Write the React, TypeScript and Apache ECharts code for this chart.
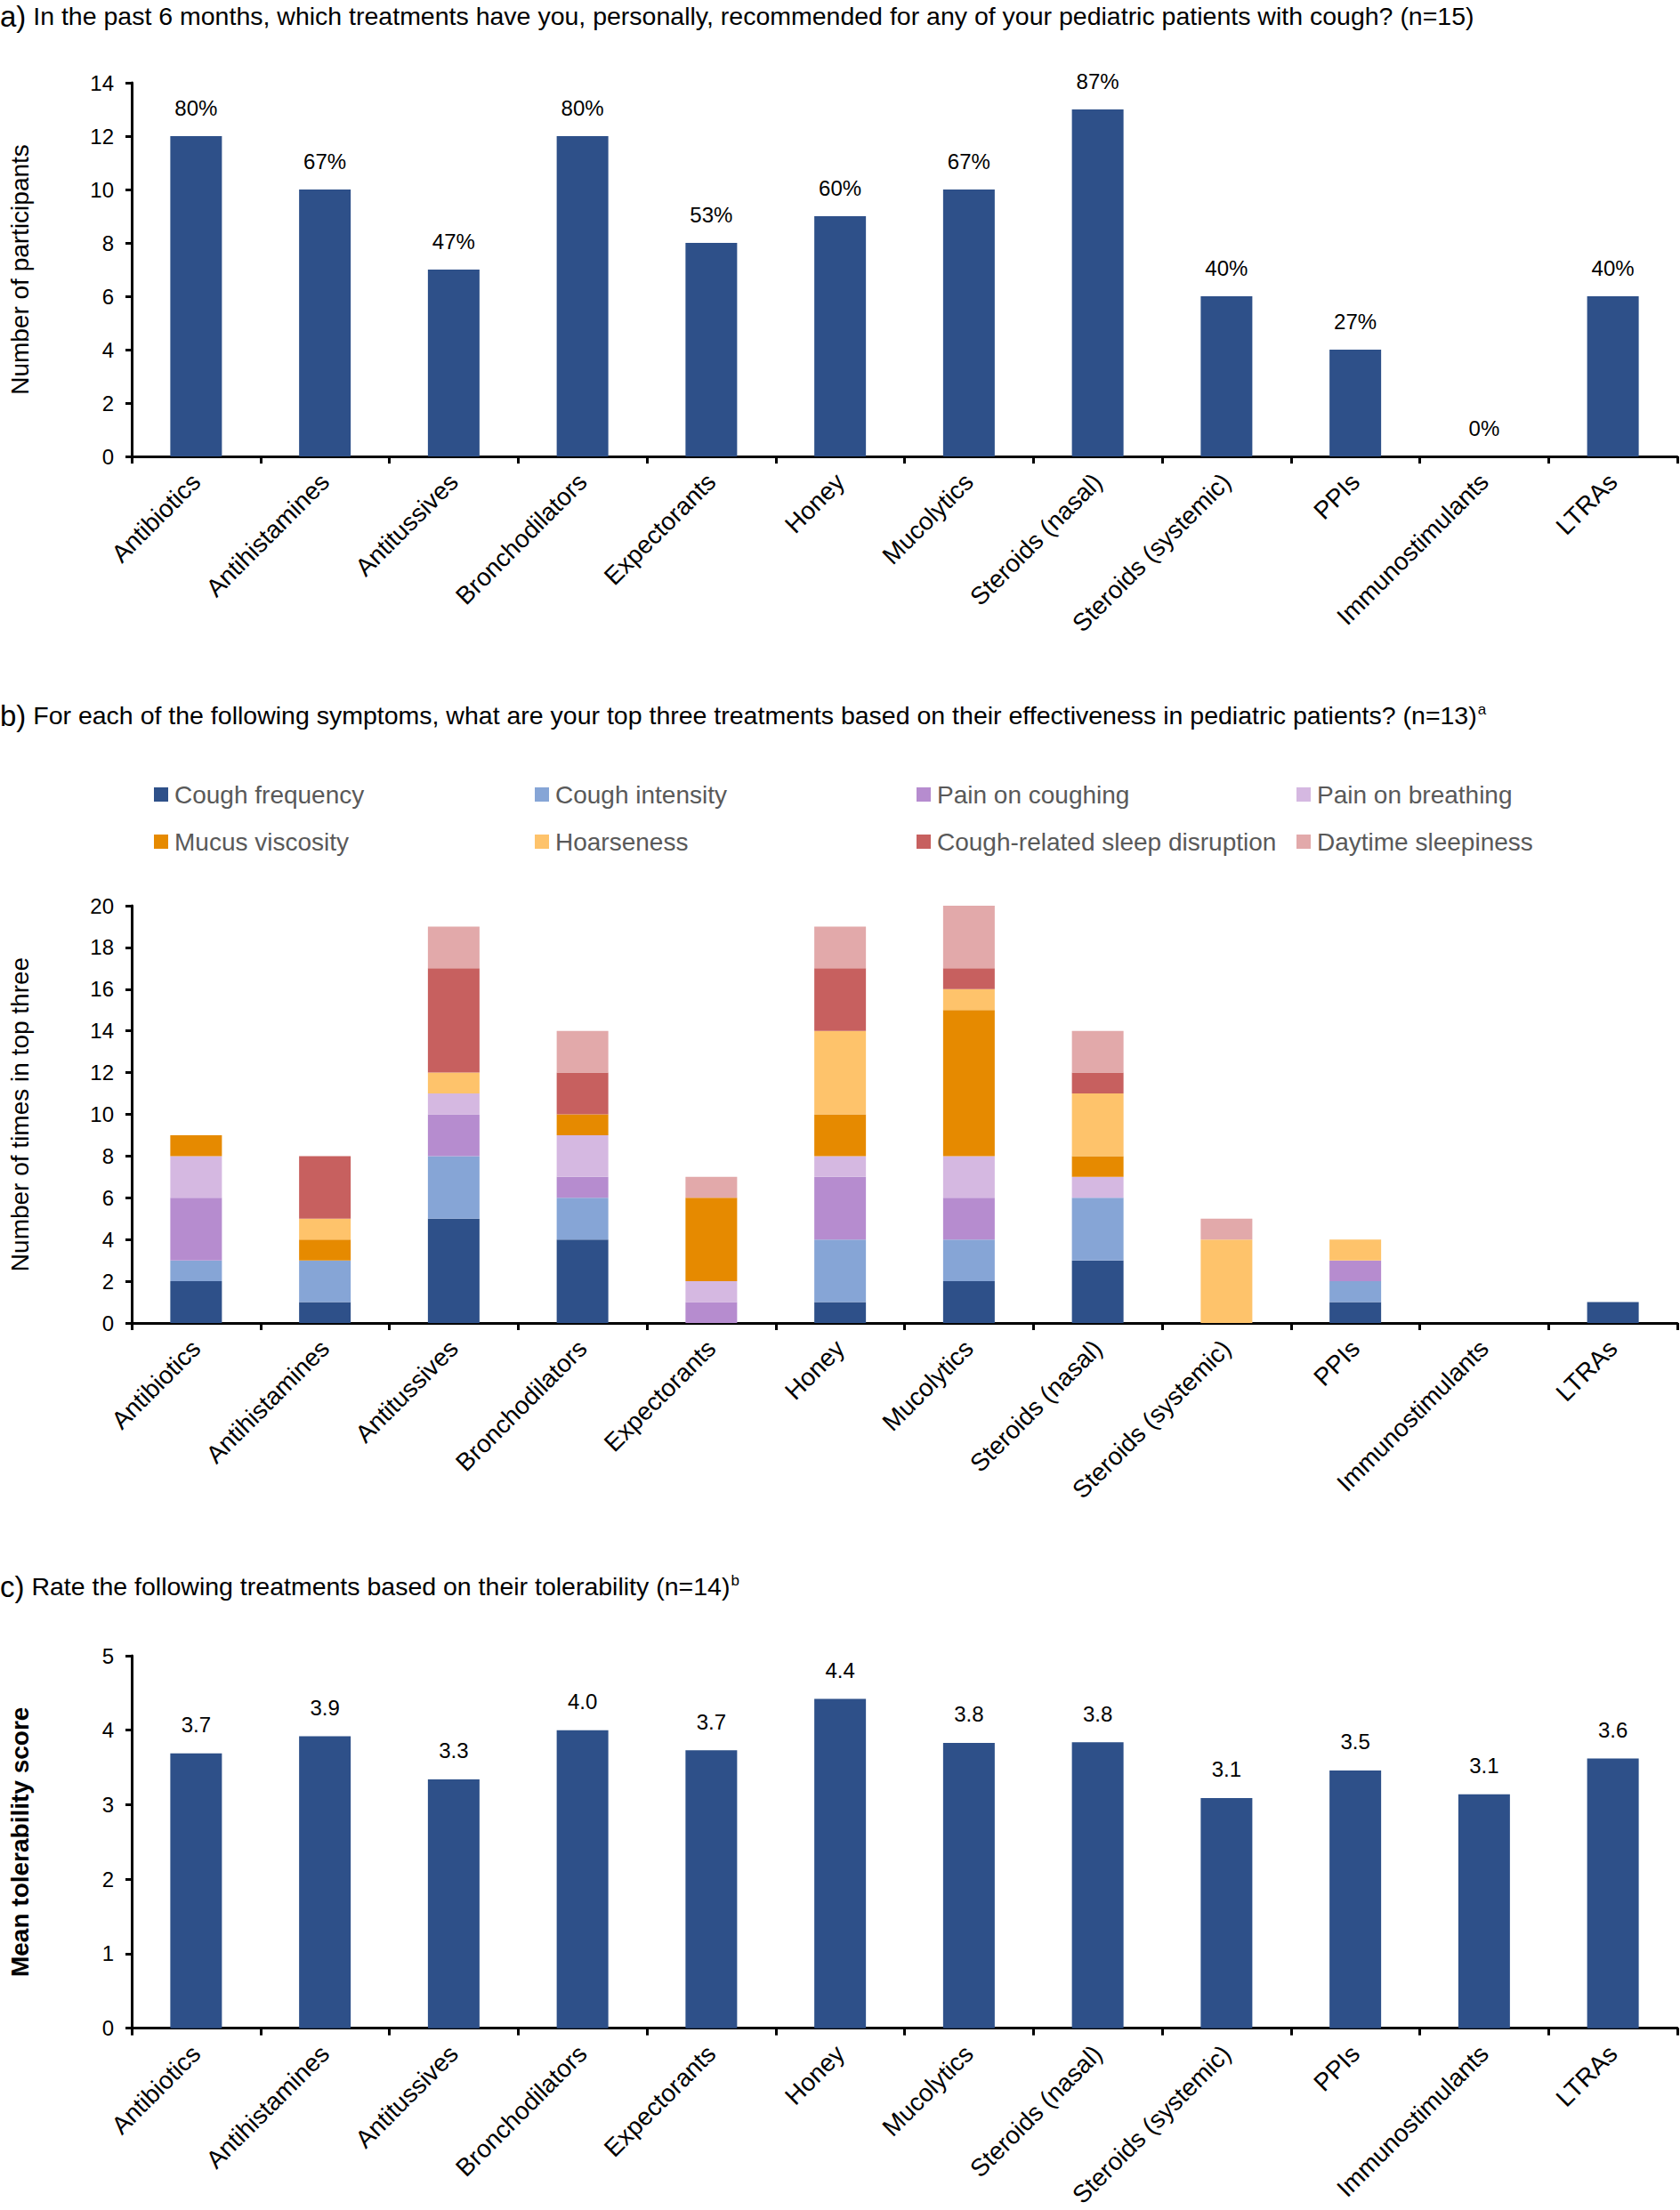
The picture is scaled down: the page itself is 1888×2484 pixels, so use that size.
import React, { useEffect, useRef } from "react";
import * as echarts from "echarts";

const FONT = "'Liberation Sans', Arial, Helvetica, sans-serif";

const categories = [
  "Antibiotics",
  "Antihistamines",
  "Antitussives",
  "Bronchodilators",
  "Expectorants",
  "Honey",
  "Mucolytics",
  "Steroids (nasal)",
  "Steroids (systemic)",
  "PPIs",
  "Immunostimulants",
  "LTRAs",
];

// Panel a
const recommendedCounts = [12, 10, 7, 12, 8, 9, 10, 13, 6, 4, 0, 6];
const recommendedPct = ["80%", "67%", "47%", "80%", "53%", "60%", "67%", "87%", "40%", "27%", "0%", "40%"];

// Panel b (stack order bottom -> top)
const symptomNames = [
  "Cough frequency",
  "Cough intensity",
  "Pain on coughing",
  "Pain on breathing",
  "Mucus viscosity",
  "Hoarseness",
  "Cough-related sleep disruption",
  "Daytime sleepiness",
];
const symptomColors = ["#2E5089", "#86A5D6", "#B68CCF", "#D5B8E1", "#E68A00", "#FEC36B", "#C7605F", "#E2A9AA"];
const coughFrequency = [2, 1, 5, 4, 0, 1, 2, 3, 0, 1, 0, 1];
const coughIntensity = [1, 2, 3, 2, 0, 3, 2, 3, 0, 1, 0, 0];
const painOnCoughing = [3, 0, 2, 1, 1, 3, 2, 0, 0, 1, 0, 0];
const painOnBreathing = [2, 0, 1, 2, 1, 1, 2, 1, 0, 0, 0, 0];
const mucusViscosity = [1, 1, 0, 1, 4, 2, 7, 1, 0, 0, 0, 0];
const hoarseness = [0, 1, 1, 0, 0, 4, 1, 3, 4, 1, 0, 0];
const sleepDisruption = [0, 3, 5, 2, 0, 3, 1, 1, 0, 0, 0, 0];
const daytimeSleepiness = [0, 0, 2, 2, 1, 2, 3, 2, 1, 0, 0, 0];
const symptomData = [
  coughFrequency,
  coughIntensity,
  painOnCoughing,
  painOnBreathing,
  mucusViscosity,
  hoarseness,
  sleepDisruption,
  daytimeSleepiness,
];

// Panel c
const tolerability = [3.69, 3.92, 3.34, 4.0, 3.73, 4.42, 3.83, 3.84, 3.09, 3.46, 3.14, 3.62];

const titleA = "In the past 6 months, which treatments have you, personally, recommended for any of your pediatric patients with cough? (n=15)";
const titleB = "For each of the following symptoms, what are your top three treatments based on their effectiveness in pediatric patients? (n=13)";
const titleC = "Rate the following treatments based on their tolerability (n=14)";

const BAR = "#2E5089";

export default function App() {
  const ref = useRef<HTMLDivElement>(null);

  useEffect(() => {
    document.body.style.margin = "0";
    if (!ref.current) return;
    const chart = echarts.init(ref.current, undefined, { renderer: "svg" });

    const gridLeft = 148;
    const gridWidth = 1737;
    const grids = [
      { left: gridLeft, top: 93, width: gridWidth, height: 420 },
      { left: gridLeft, top: 1018, width: gridWidth, height: 469 },
      { left: gridLeft, top: 1861, width: gridWidth, height: 420 },
    ];

    const axisLineStyle = { color: "#000", width: 3 };
    const xAxes = [0, 1, 2].map((g) => ({
      type: "category",
      gridIndex: g,
      data: categories,
      axisLine: { show: true, lineStyle: axisLineStyle },
      axisTick: { show: true, length: 8, lineStyle: { color: "#000", width: 3 } },
      axisLabel: { interval: 0, rotate: 45, fontSize: 28, color: "#000", fontFamily: FONT, margin: 24 },
    }));

    const yDefs = [
      { max: 14, interval: 2, name: "Number of participants", bold: false },
      { max: 20, interval: 2, name: "Number of times in top three", bold: false },
      { max: 5, interval: 1, name: "Mean tolerability score", bold: true },
    ];
    const yAxes = yDefs.map((d, g) => ({
      type: "value",
      gridIndex: g,
      min: 0,
      max: d.max,
      interval: d.interval,
      name: d.name,
      nameLocation: "middle",
      nameGap: 112,
      nameTextStyle: { fontSize: 28, color: "#000", fontFamily: FONT, fontWeight: d.bold ? "bold" : "normal" },
      axisLine: { show: true, lineStyle: axisLineStyle },
      axisTick: { show: true, length: 7, lineStyle: { color: "#000", width: 3 } },
      splitLine: { show: false },
      axisLabel: { fontSize: 24, color: "#000", fontFamily: FONT, margin: 20 },
    }));

    const rich = {
      p: { fontSize: 33, fontFamily: FONT, fontWeight: "normal", color: "#000", lineHeight: 32 },
      t: { fontSize: 28.5, fontFamily: FONT, fontWeight: "normal", color: "#000", lineHeight: 32 },
      s: { fontSize: 17, fontFamily: FONT, fontWeight: "normal", color: "#000", lineHeight: 32, verticalAlign: "top", padding: [1, 0, 0, 1] },
    };

    const legendCols = [173, 601, 1030, 1457];
    const legendRows = [879, 932];

    const option = {
      animation: false,
      backgroundColor: "#fff",
      title: [
        { text: "{p|a)}{t| " + titleA + "}", left: 0, top: 2, padding: 0, textStyle: { fontWeight: "normal", rich } },
        { text: "{p|b)}{t| " + titleB + "}{s|a}", left: 0, top: 788, padding: 0, textStyle: { fontWeight: "normal", rich } },
        { text: "{p|c)}{t| " + titleC + "}{s|b}", left: 0, top: 1767, padding: 0, textStyle: { fontWeight: "normal", rich } },
      ],
      legend: symptomNames.map((n, i) => ({
        data: [n],
        left: legendCols[i % 4],
        top: legendRows[Math.floor(i / 4)],
        icon: "rect",
        itemWidth: 16,
        itemHeight: 16,
        padding: 0,
        selectedMode: false,
        textStyle: { fontSize: 28, color: "#595959", fontFamily: FONT, padding: [0, 0, 0, 2] },
      })),
      grid: grids,
      xAxis: xAxes,
      yAxis: yAxes,
      series: [
        {
          type: "bar",
          xAxisIndex: 0,
          yAxisIndex: 0,
          data: recommendedCounts,
          barWidth: 58,
          itemStyle: { color: BAR },
          label: {
            show: true,
            position: "top",
            distance: 20,
            fontSize: 24,
            color: "#000",
            fontFamily: FONT,
            formatter: (p: any) => recommendedPct[p.dataIndex],
          },
        },
        ...symptomNames.map((n, i) => ({
          type: "bar",
          name: n,
          stack: "top3",
          xAxisIndex: 1,
          yAxisIndex: 1,
          data: symptomData[i],
          barWidth: 58,
          itemStyle: { color: symptomColors[i] },
        })),
        {
          type: "bar",
          xAxisIndex: 2,
          yAxisIndex: 2,
          data: tolerability,
          barWidth: 58,
          itemStyle: { color: BAR },
          label: {
            show: true,
            position: "top",
            distance: 20,
            fontSize: 24,
            color: "#000",
            fontFamily: FONT,
            formatter: (p: any) => Number(p.value).toFixed(1),
          },
        },
      ],
    };

    chart.setOption(option as any);
    return () => chart.dispose();
  }, []);

  return <div ref={ref} style={{ width: 1888, height: 2484 }} />;
}
